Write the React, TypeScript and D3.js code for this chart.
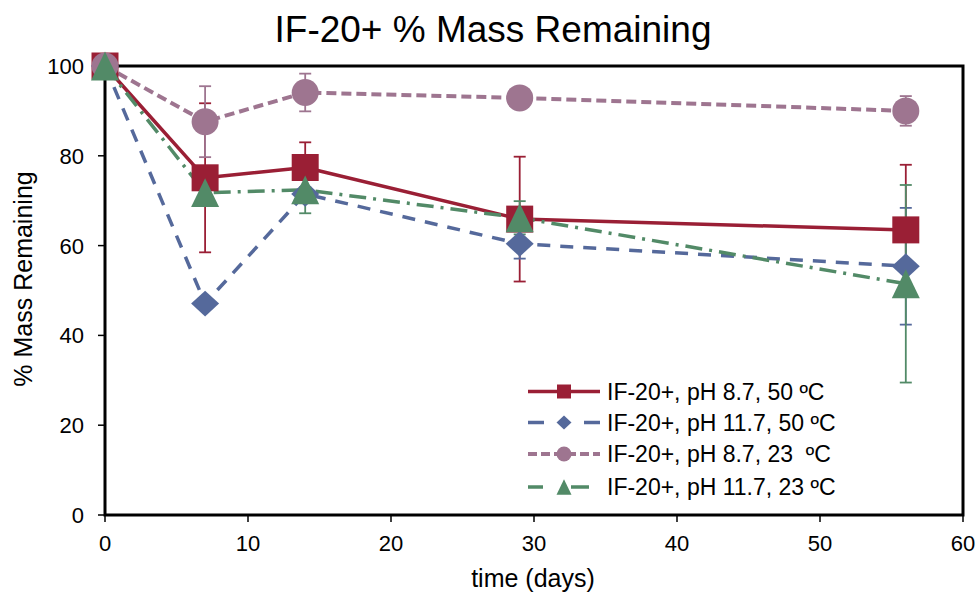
import React from 'react';
import * as d3 from 'd3';

const days = [0, 7, 14, 29, 56];
const seriesNames = [
  'IF-20+, pH 8.7, 50 ºC',
  'IF-20+, pH 11.7, 50 ºC',
  'IF-20+, pH 8.7, 23  ºC',
  'IF-20+, pH 11.7, 23 ºC',
];
const redValues = [100, 75.1, 77.4, 65.9, 63.5];
const redErrors = [0, 16.6, 5.6, 13.9, 14.5];
const blueValues = [100, 47.1, 71.5, 60.4, 55.4];
const blueErrors = [0, 1, 1.5, 3.3, 13];
const mauveValues = [100, 87.6, 94.1, 92.9, 90.0];
const mauveErrors = [0, 7.9, 4.2, 1, 3.3];
const greenValues = [100, 71.8, 72.4, 66.2, 51.5];
const greenErrors = [0, 1.5, 5.2, 3.7, 22];
const xTicks = [0, 10, 20, 30, 40, 50, 60];
const yTicks = [0, 20, 40, 60, 80, 100];

const FONT = '"Liberation Sans", Arial, Helvetica, sans-serif';
const W = 980;
const H = 596;
const M = { left: 105, right: 963, top: 66, bottom: 515 };

type Shape = 'square' | 'diamond' | 'circle' | 'triangle';

const series = [
  { name: seriesNames[0], values: redValues, errors: redErrors, color: '#9A1F35', shape: 'square' as Shape, dash: null as string | null, width: 3.5, legendDash: null as string | null },
  { name: seriesNames[1], values: blueValues, errors: blueErrors, color: '#55699B', shape: 'diamond' as Shape, dash: '13 10', width: 3.5, legendDash: '16 40' },
  { name: seriesNames[2], values: mauveValues, errors: mauveErrors, color: '#9E7590', shape: 'circle' as Shape, dash: '10 5', width: 4, legendDash: '9 4' },
  { name: seriesNames[3], values: greenValues, errors: greenErrors, color: '#528A67', shape: 'triangle' as Shape, dash: '17 7 3 7', width: 3.5, legendDash: '15 28 18 20' },
];

function markerPath(shape: Shape, s: number): string {
  const h = s / 2;
  if (shape === 'square') return `M${-h},${-h}H${h}V${h}H${-h}Z`;
  if (shape === 'diamond') return `M0,${-h * 0.92}L${h},0L0,${h * 0.92}L${-h},0Z`;
  if (shape === 'triangle') return `M0,${-h * 1.03}L${h},${h * 1.03}L${-h},${h * 1.03}Z`;
  return d3.arc()({ innerRadius: 0, outerRadius: h, startAngle: 0, endAngle: Math.PI * 2 }) as string;
}

export default function App() {
  const x = d3.scaleLinear().domain([0, 60]).range([M.left, M.right]);
  const y = d3.scaleLinear().domain([0, 100]).range([M.bottom, M.top]);
  const line = d3.line<number>().x((_, i) => x(days[i])).y((v) => y(v));

  const legendX0 = 528;
  const legendX1 = 600;
  const legendYs = [391.5, 422.5, 454, 487];

  return (
    <svg width={W} height={H} style={{ position: 'absolute', left: 0, top: 0, background: '#fff' }} fontFamily={FONT}>
      <rect x={0} y={0} width={W} height={H} fill="#fff" />
      <text x={493} y={42} textAnchor="middle" fontSize={37} fill="#000">IF-20+ % Mass Remaining</text>

      {/* frame */}
      <rect x={M.left} y={M.top} width={M.right - M.left} height={M.bottom - M.top} fill="none" stroke="#000" strokeWidth={3} />

      {/* y ticks */}
      {yTicks.map((t) => (
        <g key={'y' + t}>
          <line x1={M.left - 7} x2={M.left} y1={y(t)} y2={y(t)} stroke="#000" strokeWidth={1.5} />
          <text x={84} y={y(t)} dy="0.36em" textAnchor="end" fontSize={22} fill="#000">{t}</text>
        </g>
      ))}
      {/* x ticks */}
      {xTicks.map((t) => (
        <g key={'x' + t}>
          <line x1={x(t)} x2={x(t)} y1={M.bottom} y2={M.bottom + 7} stroke="#000" strokeWidth={1.5} />
          <text x={x(t)} y={551} textAnchor="middle" fontSize={22} fill="#000">{t}</text>
        </g>
      ))}
      <text x={533} y={587} textAnchor="middle" fontSize={25} fill="#000">time (days)</text>
      <text transform={`translate(32,279) rotate(-90)`} textAnchor="middle" fontSize={25} fill="#000">% Mass Remaining</text>

      {/* lines */}
      {series.map((s) => (
        <path key={'l' + s.name} d={line(s.values) as string} fill="none" stroke={s.color} strokeWidth={s.width}
          strokeDasharray={s.dash ?? undefined} strokeLinejoin="round" />
      ))}
      {/* error bars */}
      {series.map((s) => (
        <g key={'e' + s.name} stroke={s.color} strokeWidth={1.8}>
          {s.values.map((v, i) => s.errors[i] > 0 ? (
            <g key={i}>
              <line x1={x(days[i])} x2={x(days[i])} y1={y(v + s.errors[i])} y2={y(v - s.errors[i])} />
              <line x1={x(days[i]) - 6} x2={x(days[i]) + 6} y1={y(v + s.errors[i])} y2={y(v + s.errors[i])} />
              <line x1={x(days[i]) - 6} x2={x(days[i]) + 6} y1={y(v - s.errors[i])} y2={y(v - s.errors[i])} />
            </g>
          ) : null)}
        </g>
      ))}
      {/* markers */}
      {series.map((s) => (
        <g key={'m' + s.name} fill={s.color}>
          {s.values.map((v, i) => (
            <path key={i} transform={`translate(${x(days[i])},${y(v)})`} d={markerPath(s.shape, s.shape === 'triangle' ? 28 : s.shape === 'diamond' ? 28 : 27)} />
          ))}
        </g>
      ))}

      {/* legend */}
      {series.map((s, k) => (
        <g key={'lg' + s.name}>
          <line x1={legendX0} x2={legendX1} y1={legendYs[k]} y2={legendYs[k]} stroke={s.color} strokeWidth={s.width}
            strokeDasharray={s.legendDash ?? undefined} />
          <path transform={`translate(${(legendX0 + legendX1) / 2},${legendYs[k]})`} d={markerPath(s.shape, s.shape === 'square' ? 14 : 15)} fill={s.color} />
          <text x={607} y={legendYs[k]} dy="0.36em" fontSize={23} fill="#000" style={{ whiteSpace: 'pre' }}>{s.name}</text>
        </g>
      ))}
    </svg>
  );
}
